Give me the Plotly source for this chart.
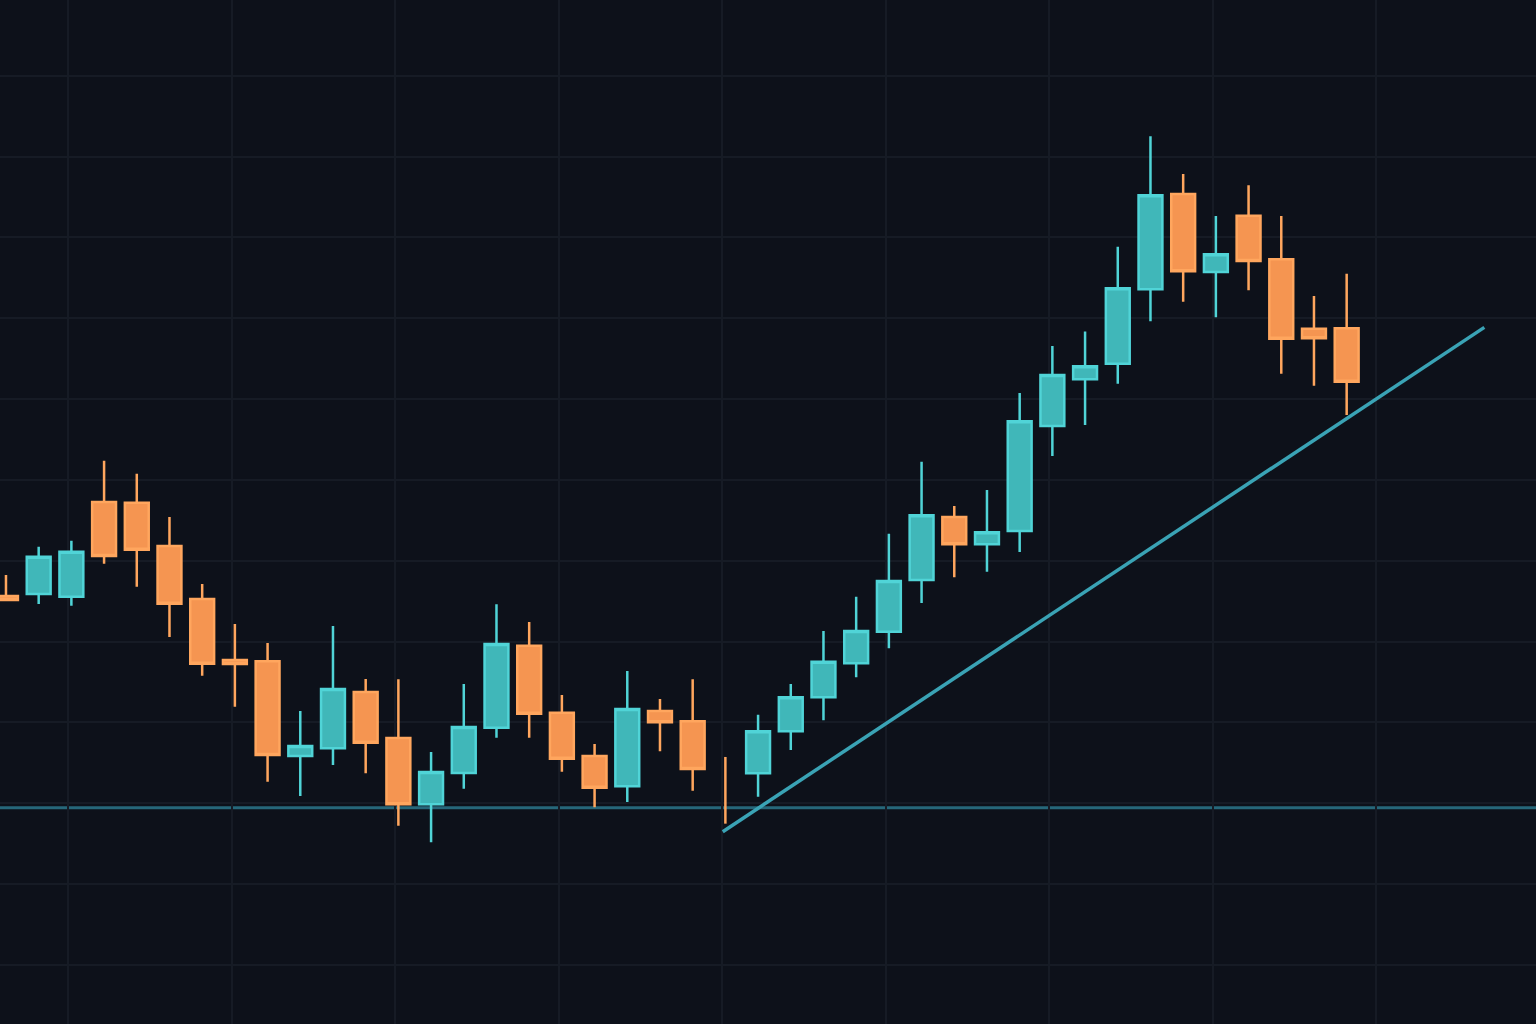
import plotly.graph_objects as go

# ---- data ----
bar_index = list(range(42))
open_ = [55.64, 55.89, 55.55, 67.27, 67.18, 61.82, 55.27, 47.72, 47.56, 35.85,
         36.80, 43.77, 38.08, 29.88, 33.75, 39.35, 49.49, 41.21, 35.85, 32.10,
         41.42, 40.14, 35.73, 33.71, 38.90, 43.11, 47.32, 51.22, 57.62, 65.41,
         62.03, 63.68, 76.67, 82.44, 84.37, 93.57, 105.36, 95.71, 102.68, 97.28,
         88.70, 88.75]
high = [58.24, 61.74, 62.48, 72.38, 70.77, 65.41, 57.12, 52.18, 49.83, 41.42,
        51.93, 45.37, 45.34, 36.35, 44.76, 54.61, 52.42, 43.40, 37.33, 46.36,
        42.90, 45.34, 35.73, 40.96, 44.76, 51.31, 55.55, 63.35, 72.25, 66.77,
        68.75, 80.75, 86.56, 88.35, 98.84, 112.50, 107.84, 102.64, 106.44, 102.64,
        92.75, 95.50]
low = [55.02, 54.65, 54.44, 59.63, 56.79, 50.57, 45.78, 41.95, 32.67, 30.90,
       34.74, 33.71, 27.23, 25.18, 31.81, 38.11, 38.11, 33.91, 29.50, 30.16,
       36.43, 31.56, 27.48, 30.82, 36.59, 40.27, 45.58, 49.17, 54.77, 57.95,
       58.65, 61.08, 72.96, 76.79, 81.90, 89.62, 92.04, 90.11, 93.45, 83.14,
       81.65, 78.03]
close = [55.15, 60.50, 61.12, 60.59, 61.37, 54.69, 47.27, 47.23, 35.97, 37.09,
         44.14, 37.50, 29.88, 33.87, 39.44, 49.70, 41.08, 35.52, 31.93, 41.66,
         40.02, 34.24, 35.73, 38.90, 43.11, 47.51, 51.31, 57.50, 65.62, 62.03,
         63.52, 77.25, 82.97, 84.05, 93.70, 105.20, 95.80, 97.90, 97.08, 87.47,
         87.51, 82.15]
# bars whose open equals close at the high: only the wick is drawn
wick_only = [22]

support_level = 29.46
trend_x = [21.92, 45.21]
trend_y = [26.49, 88.87]

# ---- styles ----
BG = "#0d111a"
GRID = "#161b25"
UP_FILL = "#40b7b9"
UP_LINE = "#50d4d7"
DOWN_FILL = "#f59551"
DOWN_LINE = "#ffa65e"

body_idx = [i for i in bar_index if i not in wick_only]

fig = go.Figure()

fig.add_trace(go.Scatter(
    x=trend_x, y=trend_y, mode="lines",
    line=dict(color="#3aa3b5", width=3.5),
    hoverinfo="skip", showlegend=False,
))

fig.add_hline(y=support_level, line=dict(color="#26677a", width=3), layer="below")

for i in wick_only:
    fig.add_trace(go.Scatter(
        x=[bar_index[i], bar_index[i]], y=[low[i], high[i]], mode="lines",
        line=dict(color=DOWN_LINE if close[i] <= open_[i] else UP_LINE, width=2.5),
        hoverinfo="skip", showlegend=False,
    ))

fig.add_trace(go.Candlestick(
    x=[bar_index[i] for i in body_idx],
    open=[open_[i] for i in body_idx],
    high=[high[i] for i in body_idx],
    low=[low[i] for i in body_idx],
    close=[close[i] for i in body_idx],
    increasing=dict(fillcolor=UP_FILL, line=dict(color=UP_LINE, width=2.5)),
    decreasing=dict(fillcolor=DOWN_FILL, line=dict(color=DOWN_LINE, width=2.5)),
    whiskerwidth=0,
    showlegend=False,
    hoverinfo="skip",
))

fig.update_layout(
    width=1536, height=1024,
    margin=dict(l=0, r=0, t=0, b=0),
    paper_bgcolor=BG, plot_bgcolor=BG,
    showlegend=False,
    boxgap=0.27, boxgroupgap=0,
    xaxis=dict(range=[-0.183, 46.79], showticklabels=False, zeroline=False,
               showline=False, showgrid=True, gridcolor=GRID, gridwidth=1.5,
               tick0=1.9, dtick=5, rangeslider=dict(visible=False), ticks=""),
    yaxis=dict(range=[2.70, 129.36], showticklabels=False, zeroline=False,
               showline=False, showgrid=True, gridcolor=GRID, gridwidth=1.5,
               tick0=0, dtick=10, ticks=""),
)

fig.write_html("out.html", config={"displayModeBar": False},
               post_script="document.body.style.margin='0';")
